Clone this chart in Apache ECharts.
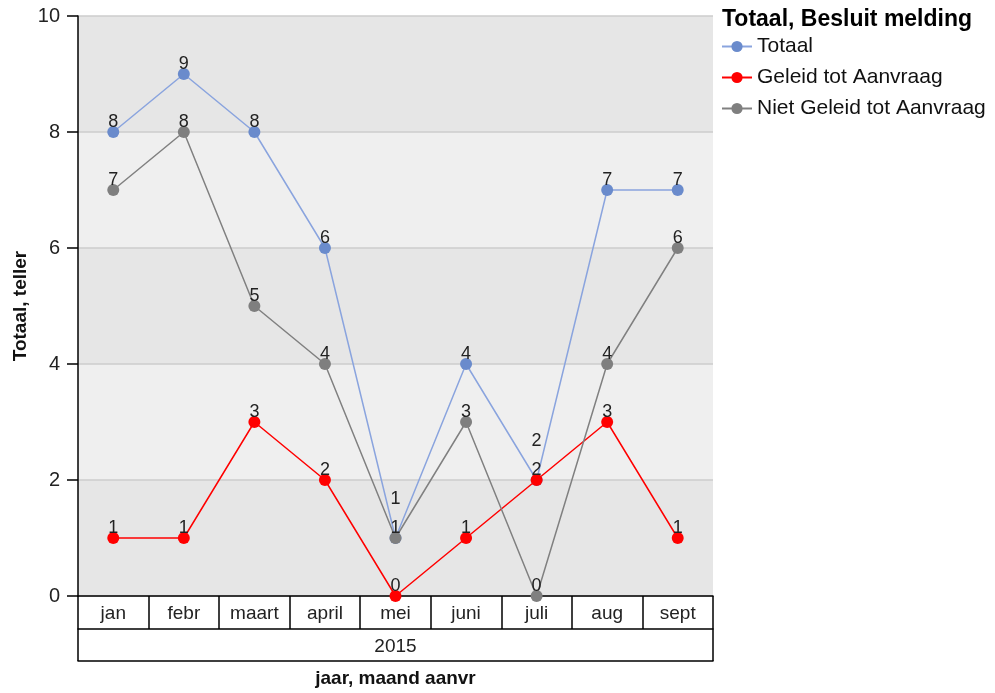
<!DOCTYPE html>
<html>
<head>
<meta charset="utf-8">
<script src="https://cdn.jsdelivr.net/npm/echarts@6/dist/echarts.min.js"></script>
<style>
html,body{margin:0;padding:0;background:#fff;}
#chart{width:995px;height:693px;}
</style>
</head>
<body>
<div id="chart"></div>
<script>
const categories = ['jan','febr','maart','april','mei','juni','juli','aug','sept'];
const years = ['2015'];
const yTicks = [0, 2, 4, 6, 8, 10];
const totaal = [8, 9, 8, 6, 1, 4, 2, 7, 7];
const geleid = [1, 1, 3, 2, 0, 1, 2, 3, 1];
const nietGeleid = [7, 8, 5, 4, 1, 3, 0, 4, 6];

const FONT = "'Liberation Sans', Arial, sans-serif";
const chart = echarts.init(document.getElementById('chart'), null, {renderer: 'canvas'});

const labelBase = {show: true, position: 'top', distance: -5, fontSize: 18, color: '#222', fontFamily: FONT};

// Totaal labels lifted where they coincide with another series' point
const totaalData = totaal.map((v, i) => {
  const clash = v === geleid[i] || v === nietGeleid[i];
  return clash ? {value: v, label: {offset: [0, -29]}} : v;
});

const option = {
  animation: false,
  textStyle: {fontFamily: FONT},
  title: {
    text: 'Totaal, Besluit melding',
    left: 722, top: 8, padding: 0,
    textStyle: {fontSize: 23, fontWeight: 'bold', color: '#000', fontFamily: FONT}
  },
  legend: {
    orient: 'vertical',
    left: 721, top: 36, padding: 0,
    itemWidth: 30, itemHeight: 14, itemGap: 10,
    textStyle: {fontSize: 21, color: '#111', lineHeight: 21, fontFamily: FONT},
    data: ['Totaal', 'Geleid tot Aanvraag', 'Niet Geleid tot Aanvraag']
  },
  grid: {left: 78, right: 282, top: 16, bottom: 97, containLabel: false},
  xAxis: [
    {
      type: 'category', data: categories, boundaryGap: true,
      axisLine: {show: true, lineStyle: {color: '#000', width: 1.5}},
      axisTick: {show: true, interval: 0, length: 33, lineStyle: {color: '#000', width: 1.5}},
      axisLabel: {interval: 0, margin: 8, fontSize: 19, color: '#222'},
      splitLine: {show: false}
    },
    {
      type: 'category', data: years, position: 'bottom', offset: 33,
      axisLine: {show: true, lineStyle: {color: '#000', width: 1.5}},
      axisTick: {show: true, interval: 0, length: 32, lineStyle: {color: '#000', width: 1.5}},
      axisLabel: {interval: 0, margin: 8, fontSize: 19, color: '#222'},
      splitLine: {show: false}
    },
    {
      type: 'category', data: years, position: 'bottom', offset: 65,
      axisLine: {show: true, lineStyle: {color: '#000', width: 1.5}},
      axisTick: {show: false},
      axisLabel: {show: false},
      splitLine: {show: false},
      name: 'jaar, maand aanvr', nameLocation: 'middle', nameGap: 8,
      nameTextStyle: {fontSize: 19, fontWeight: 'bold', color: '#111', fontFamily: FONT}
    }
  ],
  yAxis: {
    type: 'value', min: yTicks[0], max: yTicks[yTicks.length - 1], interval: yTicks[1] - yTicks[0],
    axisLine: {show: true, lineStyle: {color: '#000', width: 1.5}},
    axisTick: {show: true, length: 11, lineStyle: {color: '#000', width: 1.5}},
    axisLabel: {margin: 18, fontSize: 20, color: '#222'},
    splitLine: {show: true, lineStyle: {color: '#cdcdcd', width: 1.5}},
    splitArea: {show: true, areaStyle: {color: ['#e6e6e6', '#efefef']}},
    name: 'Totaal, teller', nameLocation: 'middle', nameGap: 48, nameMoveOverlap: false,
    nameTextStyle: {fontSize: 19, fontWeight: 'bold', color: '#111', fontFamily: FONT}
  },
  series: [
    {
      name: 'Totaal', type: 'line', data: totaalData,
      symbol: 'circle', symbolSize: 12,
      itemStyle: {color: '#6a8bcc'},
      lineStyle: {color: '#8aa4de', width: 1.5},
      label: labelBase
    },
    {
      name: 'Geleid tot Aanvraag', type: 'line', data: geleid,
      symbol: 'circle', symbolSize: 12,
      itemStyle: {color: '#ff0000'},
      lineStyle: {color: '#ff0000', width: 1.5},
      label: labelBase
    },
    {
      name: 'Niet Geleid tot Aanvraag', type: 'line', data: nietGeleid,
      symbol: 'circle', symbolSize: 12,
      itemStyle: {color: '#7f7f7f'},
      lineStyle: {color: '#808080', width: 1.5},
      label: labelBase
    }
  ]
};
chart.setOption(option);
</script>
</body>
</html>
